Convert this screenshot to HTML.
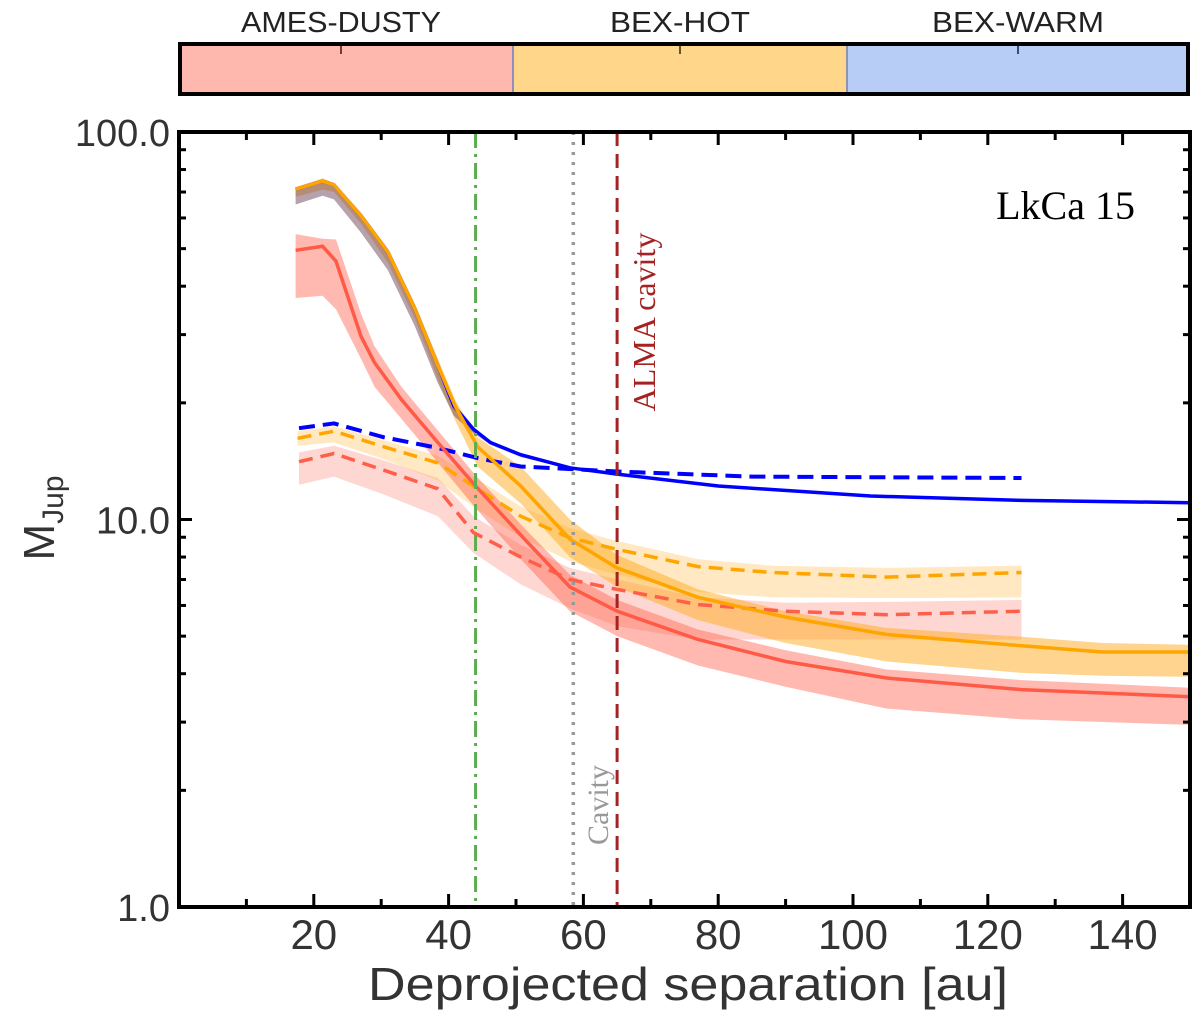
<!DOCTYPE html>
<html><head><meta charset="utf-8">
<style>
html,body{margin:0;padding:0;background:#fff;}
svg{display:block;}
</style></head>
<body>
<svg id="chart" width="1200" height="1017" viewBox="0 0 1200 1017" xmlns="http://www.w3.org/2000/svg">
  <g>
    <rect x="180" y="44" width="333" height="50" fill="#ffb8ae"/>
    <rect x="513" y="44" width="334" height="50" fill="#ffd68a"/>
    <rect x="847" y="44" width="341" height="50" fill="#b8cdf5"/>
    <line x1="513" y1="44" x2="513" y2="94" stroke="#6b7fc0" stroke-width="1.5"/>
    <line x1="847" y1="44" x2="847" y2="94" stroke="#6b7fc0" stroke-width="1.5"/>
    <line x1="341" y1="46" x2="341" y2="54" stroke="#7a3a30" stroke-width="2"/>
    <line x1="680" y1="46" x2="680" y2="54" stroke="#6a5030" stroke-width="2"/>
    <line x1="1018" y1="46" x2="1018" y2="54" stroke="#404a70" stroke-width="2"/>
    <rect x="180" y="44" width="1008" height="50" fill="none" stroke="#000" stroke-width="4"/>
    <text x="341" y="32" text-anchor="middle" font-family="Liberation Sans, sans-serif" font-size="29" textLength="200" lengthAdjust="spacingAndGlyphs" fill="#222">AMES-DUSTY</text>
    <text x="680" y="32" text-anchor="middle" font-family="Liberation Sans, sans-serif" font-size="29" textLength="140" lengthAdjust="spacingAndGlyphs" fill="#222">BEX-HOT</text>
    <text x="1018" y="32" text-anchor="middle" font-family="Liberation Sans, sans-serif" font-size="29" textLength="172" lengthAdjust="spacingAndGlyphs" fill="#222">BEX-WARM</text>
  </g>
  <g id="plot"></g>
  <g id="axes"></g>
  <text x="688" y="1000" text-anchor="middle" font-family="Liberation Sans, sans-serif" font-size="46" textLength="640" lengthAdjust="spacingAndGlyphs" fill="#333">Deprojected separation [au]</text>
  <text transform="translate(54,518) rotate(-90)" text-anchor="middle" font-family="Liberation Sans, sans-serif" font-size="44" fill="#333">M<tspan font-size="30" dy="9">Jup</tspan></text>
  <text x="1135" y="219" text-anchor="end" font-family="Liberation Serif, serif" font-size="40" fill="#000">LkCa 15</text>
  <text transform="translate(655,322) rotate(-90)" text-anchor="middle" font-family="Liberation Serif, serif" font-size="32" fill="#a52222">ALMA cavity</text>
  <text transform="translate(608,805) rotate(-90)" text-anchor="middle" font-family="Liberation Serif, serif" font-size="30" fill="#999">Cavity</text>
</svg>
<script>
// ---- data ----
const redSolidX  = [17.3,21.3,23.3,27,29,33,38,44,51,58,65,77,90,105,125,150];
const redSolidV  = [49.5,50.7,46.4,29.7,25.4,20.4,16.1,12.2,9.0,6.7,5.8,4.9,4.3,3.9,3.64,3.49];
const redSolidHi = [54.5,53,52.8,34,28,22,17.3,13,9.6,7.2,6.2,5.2,4.6,4.1,3.85,3.68];
const redSolidLo = [37.3,37.8,34.9,26,22,18.2,14.3,10.7,7.8,5.8,5.0,4.2,3.7,3.25,3.05,2.95];

const orSolidX  = [17.3,21.3,23,27,31,35,38.4,41,44.3,50.7,58,65,77,90,105,125,137,150];
const orSolidV  = [71.2,74.7,73,60.7,49,35,25,19.6,15.4,12.2,8.9,7.5,6.3,5.6,5.05,4.72,4.55,4.55];
const orSolidHi = [72,76,74,62,50,36,26,20.3,16.3,13.7,10,8.1,6.6,5.8,5.25,4.98,4.8,4.75];
const orSolidLo = [68,71,70,58,46,33,23,18,13.7,11.0,8.0,6.7,5.5,4.8,4.3,4.02,3.95,3.93];

const blSolidX  = [17.3,21.3,23,27,31,35,38.4,40.8,43.7,46.2,50.7,58,65,80,102.6,125,150];
const blSolidV  = [71.2,74.7,73,60.7,49,35,25,19.6,17.1,15.8,14.7,13.6,13.1,12.2,11.5,11.2,11.05];
const blSolidLo = [65,68.5,67,55,44,31.5,22.5,18.5,16.7,15.6,14.5,13.5,13.0,12.1,11.4,11.1,10.95];

const orDashX  = [17.6,23,30.4,38.4,44.3,50.7,58,65,77,88,105,125];
const orDashV  = [16.2,16.9,15.4,14.0,12.0,10.2,8.97,8.37,7.56,7.3,7.1,7.3];
const orDashHi = [16.9,17.4,16.0,14.6,12.7,10.8,9.5,8.8,7.9,7.6,7.5,7.6];
const orDashLo = [15.5,15.8,14.3,12.6,10.6,9.0,7.8,7.2,6.5,6.3,6.27,6.3];

const redDashX  = [17.8,23,30.4,38.4,43.7,50.7,58,65,77,90,105,125];
const redDashV  = [14.1,14.8,13.4,12.0,9.25,8.0,7.0,6.6,6.03,5.8,5.68,5.8];
const redDashHi = [14.9,15.5,14.2,12.8,10.2,8.6,7.5,7.0,6.3,6.1,6.13,6.2];
const redDashLo = [12.3,12.9,11.6,10.2,8.2,6.8,5.9,5.3,4.9,4.9,4.9,4.9];

const blDashX = [17.8,23,30.4,38.4,44.3,50.7,65,85,125];
const blDashV = [17.2,17.7,16.3,15.3,14.4,13.7,13.3,12.9,12.8];

const vlineX = [44, 58.5, 65];
const xTickLabels = [20,40,60,80,100,120,140];
const yTickLabels = ["1.0","10.0","100.0"];

// ---- axes ----
const L=179,R=1190,T=132,B=907;
const xs = v => L + (v/150)*(R-L);
const ys = v => B - (Math.log10(v)/2)*(B-T);
const NS="http://www.w3.org/2000/svg";
const plot=document.getElementById('plot');
const axes=document.getElementById('axes');
function mk(tag,attrs,parent){const e=document.createElementNS(NS,tag);for(const k in attrs)e.setAttribute(k,attrs[k]);parent.appendChild(e);return e;}
function linePath(X,V){return X.map((x,i)=>(i?'L':'M')+xs(x).toFixed(1)+','+ys(V[i]).toFixed(1)).join(' ');}
function bandPath(X,H,Lo){let d=X.map((x,i)=>(i?'L':'M')+xs(x).toFixed(1)+','+ys(H[i]).toFixed(1)).join(' ');
  for(let i=X.length-1;i>=0;i--)d+=' L'+xs(X[i]).toFixed(1)+','+ys(Lo[i]).toFixed(1);return d+' Z';}

let e;
e=mk('path',{d:bandPath(redDashX,redDashHi,redDashLo),fill:'rgba(255,110,95,0.28)'},plot);


e=mk('path',{d:bandPath(orDashX,orDashHi,orDashLo),fill:'rgba(255,190,80,0.35)'},plot);


e=mk('path',{d:bandPath(redSolidX,redSolidHi,redSolidLo),fill:'rgba(255,100,80,0.45)'},plot);


e=mk('path',{d:bandPath(orSolidX,orSolidHi,orSolidLo),fill:'rgba(255,170,30,0.5)'},plot);


e=mk('path',{d:bandPath(blSolidX,blSolidV,blSolidLo),fill:'rgba(110,70,90,0.5)'},plot);



e=mk('path',{d:linePath(redDashX,redDashV),fill:'none',stroke:'#ff5f4a','stroke-width':3.5,'stroke-dasharray':'14,8'},plot);


e=mk('path',{d:linePath(orDashX,orDashV),fill:'none',stroke:'#ffa500','stroke-width':3.5,'stroke-dasharray':'14,8'},plot);


e=mk('path',{d:linePath(blDashX,blDashV),fill:'none',stroke:'#0000ff','stroke-width':4,'stroke-dasharray':'16,8'},plot);


e=mk('path',{d:linePath(blSolidX,blSolidV),fill:'none',stroke:'#0000ff','stroke-width':3.5},plot);


e=mk('path',{d:linePath(redSolidX,redSolidV),fill:'none',stroke:'#ff5a45','stroke-width':3.5},plot);


e=mk('path',{d:linePath(orSolidX,orSolidV),fill:'none',stroke:'#ffa500','stroke-width':3.5},plot);



const vStyles=[{stroke:'#5aae4f',dash:'16,6,3,6',w:3},{stroke:'#999',dash:'3,7',w:3.5},{stroke:'#a52222',dash:'14,8',w:3}];
const vNames=['planet-separation-line','cavity-line','alma-cavity-line'];
vlineX.forEach((v,i)=>{
  const l=mk('line',{x1:xs(v),x2:xs(v),y1:T,y2:B,stroke:vStyles[i].stroke,'stroke-width':vStyles[i].w,'stroke-dasharray':vStyles[i].dash},plot);
  
  
});

e=mk('rect',{x:L,y:T,width:R-L,height:B-T,fill:'none',stroke:'#000','stroke-width':4},axes);


for(let v=10;v<150;v+=10){
  const len=(v%20===0)?13:8;
  mk('line',{x1:xs(v),x2:xs(v),y1:B,y2:B-len,stroke:'#000','stroke-width':3},axes);
  mk('line',{x1:xs(v),x2:xs(v),y1:T,y2:T+len,stroke:'#000','stroke-width':3},axes);
}
xTickLabels.forEach(v=>{
  const t=mk('text',{x:xs(v),y:949,'text-anchor':'middle','font-family':'Liberation Sans, sans-serif','font-size':42,fill:'#333'},axes);
  t.textContent=v;
  
  
});
for(let d=0;d<2;d++){
  for(let m=1;m<=9;m++){
    const v=m*Math.pow(10,d); if(v===1&&d>0)continue;
    const len=(m===1)?13:7;
    mk('line',{x1:L,x2:L+len,y1:ys(v),y2:ys(v),stroke:'#000','stroke-width':3},axes);
    mk('line',{x1:R,x2:R-len,y1:ys(v),y2:ys(v),stroke:'#000','stroke-width':3},axes);
  }
}
yTickLabels.forEach(s=>{
  const t=mk('text',{x:170,y:ys(parseFloat(s))+14,'text-anchor':'end','font-family':'Liberation Sans, sans-serif','font-size':38,fill:'#333'},axes);
  t.textContent=s;
  
  
});
</script>
</body></html>
